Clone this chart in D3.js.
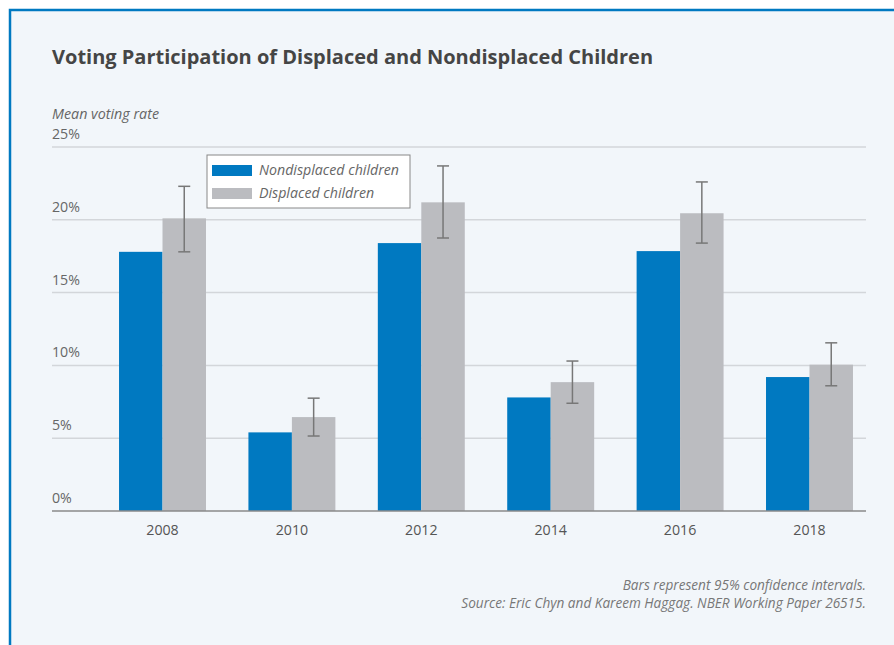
<!DOCTYPE html>
<html>
<head>
<meta charset="utf-8">
<script src="https://cdn.jsdelivr.net/npm/d3@7"></script>
<style>
  body { margin: 0; background: #fff; }
  svg { display: block; font-family: "Open Sans", "Noto Sans", sans-serif; }
  .grid line { stroke: #d3d6da; stroke-width: 1.5; }
  .tick-label { fill: #666; font-size: 14.2px; }
  .year-label { fill: #555; font-size: 14.2px; }
  .note { fill: #777; font-size: 13.6px; font-style: italic; }
</style>
</head>
<body>
<svg width="894" height="645"></svg>
<script>
// **** Data ****
var years = ['2008', '2010', '2012', '2014', '2016', '2018'];
var nondisplaced = [17.8, 5.4, 18.4, 7.8, 17.85, 9.2];
var displaced = [20.1, 6.45, 21.2, 8.85, 20.45, 10.05];
var ciLow = [17.8, 5.15, 18.75, 7.4, 18.4, 8.6];
var ciHigh = [22.3, 7.75, 23.7, 10.3, 22.6, 11.55];
var yTicks = [0, 5, 10, 15, 20, 25];
var seriesNames = ['Nondisplaced children', 'Displaced children'];
var seriesColors = ['#0079c1', '#bbbcc0'];

// **** Scales ****
var svg = d3.select('svg');

var xScale = d3.scaleBand()
    .domain(years).range([52, 920])
    .paddingInner(0.328).paddingOuter(0.518);

var sub = d3.scaleBand()
    .domain([0, 1]).range([0, xScale.bandwidth()]);

var yScale = d3.scaleLinear()
    .domain([0, 25]).range([511, 147]);

// background panel with blue border
svg.append('rect')
    .attr('x', 10).attr('y', 10)
    .attr('width', 900).attr('height', 660)
    .attr('fill', '#f2f6fa')
    .attr('stroke', '#0079c1')
    .attr('stroke-width', 2.5);

svg.append('text')
    .attr('x', 52).attr('y', 64)
    .attr('fill', '#454545')
    .style('font-size', '20px').style('font-weight', 'bold')
    .text('Voting Participation of Displaced and Nondisplaced Children');

svg.append('text')
    .attr('x', 52).attr('y', 119)
    .attr('fill', '#666').style('font-size', '14.3px').style('font-style', 'italic')
    .text('Mean voting rate');

// gridlines + labels
var grid = svg.append('g').attr('class', 'grid');
grid.selectAll('line')
    .data(yTicks.filter(function(d) { return d > 0; }))
    .enter().append('line')
    .attr('x1', 52).attr('x2', 866)
    .attr('y1', function(d) { return yScale(d); })
    .attr('y2', function(d) { return yScale(d); });

svg.selectAll('.tick-label')
    .data(yTicks)
    .enter().append('text')
    .attr('class', 'tick-label')
    .attr('x', 52)
    .attr('y', function(d) { return yScale(d) - 8; })
    .text(function(d) { return d + '%'; });

// bars
var groups = svg.selectAll('.year')
    .data(years)
    .enter().append('g')
    .attr('class', 'year')
    .attr('transform', function(d) { return 'translate(' + xScale(d) + ',0)'; });

groups.append('rect')
    .attr('x', sub(0)).attr('width', sub.bandwidth())
    .attr('y', function(d, i) { return yScale(nondisplaced[i]); })
    .attr('height', function(d, i) { return yScale(0) - yScale(nondisplaced[i]); })
    .attr('fill', seriesColors[0]);

groups.append('rect')
    .attr('x', sub(1)).attr('width', sub.bandwidth())
    .attr('y', function(d, i) { return yScale(displaced[i]); })
    .attr('height', function(d, i) { return yScale(0) - yScale(displaced[i]); })
    .attr('fill', seriesColors[1]);

// error bars
var errX = sub(1) + sub.bandwidth() / 2;
groups.append('line')
    .attr('x1', errX).attr('x2', errX)
    .attr('y1', function(d, i) { return yScale(ciHigh[i]); })
    .attr('y2', function(d, i) { return yScale(ciLow[i]); })
    .attr('stroke', '#777').attr('stroke-width', 1.5);
[ciHigh, ciLow].forEach(function(arr) {
    groups.append('line')
        .attr('x1', errX - 6).attr('x2', errX + 6)
        .attr('y1', function(d, i) { return yScale(arr[i]); })
        .attr('y2', function(d, i) { return yScale(arr[i]); })
        .attr('stroke', '#777').attr('stroke-width', 1.5);
});

// baseline
svg.append('line')
    .attr('x1', 52).attr('x2', 866)
    .attr('y1', yScale(0)).attr('y2', yScale(0))
    .attr('stroke', '#8a8a8a').attr('stroke-width', 1.5);

groups.append('text')
    .attr('class', 'year-label')
    .attr('x', xScale.bandwidth() / 2)
    .attr('y', 535)
    .attr('text-anchor', 'middle')
    .text(function(d) { return d; });

// legend
var legend = svg.append('g').attr('transform', 'translate(207,155)');
legend.append('rect')
    .attr('width', 203).attr('height', 53)
    .attr('fill', '#fff').attr('stroke', '#888').attr('stroke-width', 1);
seriesNames.forEach(function(name, i) {
    legend.append('rect')
        .attr('x', 5).attr('y', 10 + i * 23)
        .attr('width', 40).attr('height', 11)
        .attr('fill', seriesColors[i]);
    legend.append('text')
        .attr('x', 52).attr('y', 20 + i * 23)
        .attr('fill', '#666').style('font-size', '14.2px').style('font-style', 'italic')
        .text(name);
});

// notes
svg.append('text').attr('class', 'note')
    .attr('x', 866).attr('y', 590).attr('text-anchor', 'end')
    .text('Bars represent 95% confidence intervals.');
svg.append('text').attr('class', 'note')
    .attr('x', 866).attr('y', 608).attr('text-anchor', 'end')
    .text('Source: Eric Chyn and Kareem Haggag. NBER Working Paper 26515.');
</script>
</body>
</html>
